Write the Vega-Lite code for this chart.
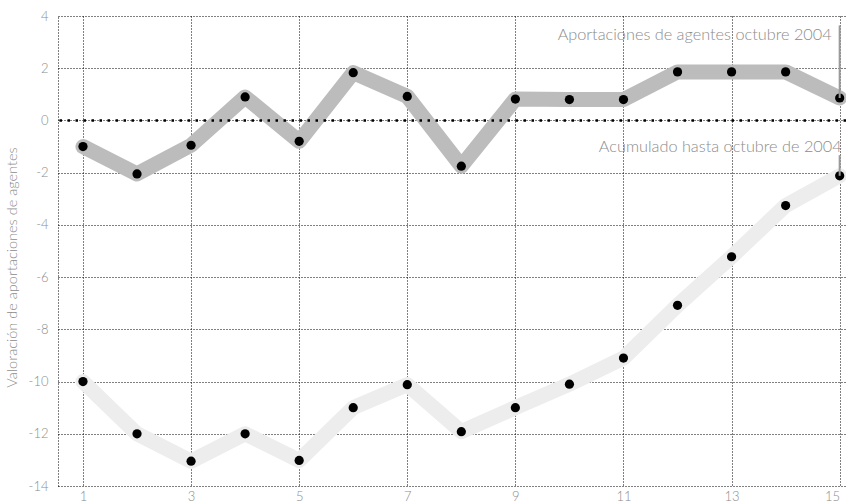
{
  "$schema": "https://vega.github.io/schema/vega-lite/v6.json",
  "autosize": "none",
  "width": 788,
  "height": 470,
  "padding": {"left": 58, "top": 16, "right": 0, "bottom": 17},
  "background": "white",
  "config": {
    "view": {"stroke": null},
    "font": "Lato",
    "axis": {"labelFont": "Lato", "labelFontWeight": 300, "labelColor": "#8c8c8c", "labelFontSize": 13, "titleFont": "Lato", "titleFontWeight": 300, "titleColor": "#8c8c8c", "zindex": 1}
  },
  "datasets": {
    "series": [
      {"x": 1, "serie": "Aportaciones", "v": -1.0},
      {"x": 2, "serie": "Aportaciones", "v": -2.05},
      {"x": 3, "serie": "Aportaciones", "v": -0.95},
      {"x": 4, "serie": "Aportaciones", "v": 0.9},
      {"x": 5, "serie": "Aportaciones", "v": -0.8},
      {"x": 6, "serie": "Aportaciones", "v": 1.83},
      {"x": 7, "serie": "Aportaciones", "v": 0.92},
      {"x": 8, "serie": "Aportaciones", "v": -1.75},
      {"x": 9, "serie": "Aportaciones", "v": 0.82},
      {"x": 10, "serie": "Aportaciones", "v": 0.8},
      {"x": 11, "serie": "Aportaciones", "v": 0.8},
      {"x": 12, "serie": "Aportaciones", "v": 1.86},
      {"x": 13, "serie": "Aportaciones", "v": 1.86},
      {"x": 14, "serie": "Aportaciones", "v": 1.86},
      {"x": 15, "serie": "Aportaciones", "v": 0.86},
      {"x": 1, "serie": "Acumulado", "v": -10.0},
      {"x": 2, "serie": "Acumulado", "v": -12.0},
      {"x": 3, "serie": "Acumulado", "v": -13.05},
      {"x": 4, "serie": "Acumulado", "v": -12.0},
      {"x": 5, "serie": "Acumulado", "v": -13.02},
      {"x": 6, "serie": "Acumulado", "v": -11.0},
      {"x": 7, "serie": "Acumulado", "v": -10.12},
      {"x": 8, "serie": "Acumulado", "v": -11.92},
      {"x": 9, "serie": "Acumulado", "v": -11.0},
      {"x": 10, "serie": "Acumulado", "v": -10.1},
      {"x": 11, "serie": "Acumulado", "v": -9.1},
      {"x": 12, "serie": "Acumulado", "v": -7.08},
      {"x": 13, "serie": "Acumulado", "v": -5.22},
      {"x": 14, "serie": "Acumulado", "v": -3.26},
      {"x": 15, "serie": "Acumulado", "v": -2.12}
    ],
    "notas": [
      {"serie": "Aportaciones", "x": 15, "ytxt": 3.07, "ytop": 3.64, "yend": 0.86, "label": "Aportaciones de agentes octubre 2004"},
      {"serie": "Acumulado", "x": 15, "ytxt": -1.22, "ytop": -1.33, "yend": -2.12, "label": "Acumulado hasta octubre de 2004"}
    ],
    "cero": [{"v": 0}]
  },
  "layer": [
    {
      "data": {"name": "series"},
      "mark": {"type": "line", "strokeWidth": 15, "strokeCap": "round", "strokeJoin": "round"},
      "encoding": {
        "x": {"field": "x", "type": "quantitative", "scale": {"domain": [0.538, 15.117], "nice": false, "zero": false},
          "axis": {"values": [1, 3, 5, 7, 9, 11, 13, 15], "grid": true, "gridColor": "#000", "gridDash": [1, 2], "gridWidth": 1, "gridOpacity": 1, "ticks": false, "domain": false, "labelPadding": 4, "labelFlush": false, "labelAlign": {"condition": {"test": "datum.value === 15", "value": "right"}, "value": "center"}, "title": null, "labelExpr": "toString(datum.value)"}},
        "y": {"field": "v", "type": "quantitative", "scale": {"domain": [-14, 4], "nice": false, "zero": false},
          "axis": {"values": [-14, -12, -10, -8, -6, -4, -2, 0, 2, 4], "grid": true, "gridColor": "#000", "gridDash": [1, 2], "gridWidth": 1, "gridOpacity": 1, "ticks": false, "domain": true, "domainColor": "#000", "domainDash": [1, 2], "domainWidth": 1, "labelPadding": 10, "labelExpr": "toString(datum.value)", "title": "Valoración de aportaciones de agentes", "titleFontSize": 14.5, "titleX": -46, "titleY": 251, "titleAngle": -90, "titleAlign": "center", "titleBaseline": "middle"}},
        "color": {"field": "serie", "type": "nominal", "scale": {"domain": ["Aportaciones", "Acumulado"], "range": ["#bcbcbc", "#ededee"]}, "legend": null},
        "order": {"field": "x", "type": "quantitative"}
      }
    },
    {
      "data": {"name": "cero"},
      "mark": {"type": "rule", "color": "#000", "strokeWidth": 2.5, "strokeDash": [2.5, 5.5]},
      "encoding": {"y": {"field": "v", "type": "quantitative"}}
    },
    {
      "data": {"name": "series"},
      "mark": {"type": "point", "filled": true, "color": "#000", "size": 85, "opacity": 1, "shape": "circle"},
      "encoding": {
        "x": {"field": "x", "type": "quantitative"},
        "y": {"field": "v", "type": "quantitative"}
      }
    },
    {
      "data": {"name": "notas"},
      "mark": {"type": "rule", "color": "#9a9a9a", "strokeWidth": 2},
      "encoding": {
        "x": {"field": "x", "type": "quantitative"},
        "y": {"field": "ytop", "type": "quantitative"},
        "y2": {"field": "yend"}
      }
    },
    {
      "data": {"name": "notas"},
      "transform": [{"filter": "datum.serie === 'Aportaciones'"}],
      "mark": {"type": "text", "align": "right", "baseline": "alphabetic", "dx": -8, "font": "Lato", "fontWeight": 300, "fontSize": 16.3, "color": "#8c8c8c"},
      "encoding": {
        "x": {"field": "x", "type": "quantitative"},
        "y": {"field": "ytxt", "type": "quantitative"},
        "text": {"field": "label"}
      }
    },
    {
      "data": {"name": "notas"},
      "transform": [{"filter": "datum.serie === 'Acumulado'"}],
      "mark": {"type": "text", "align": "right", "baseline": "alphabetic", "dx": 2, "font": "Lato", "fontWeight": 300, "fontSize": 16.3, "color": "#8c8c8c"},
      "encoding": {
        "x": {"field": "x", "type": "quantitative"},
        "y": {"field": "ytxt", "type": "quantitative"},
        "text": {"field": "label"}
      }
    }
  ]
}
